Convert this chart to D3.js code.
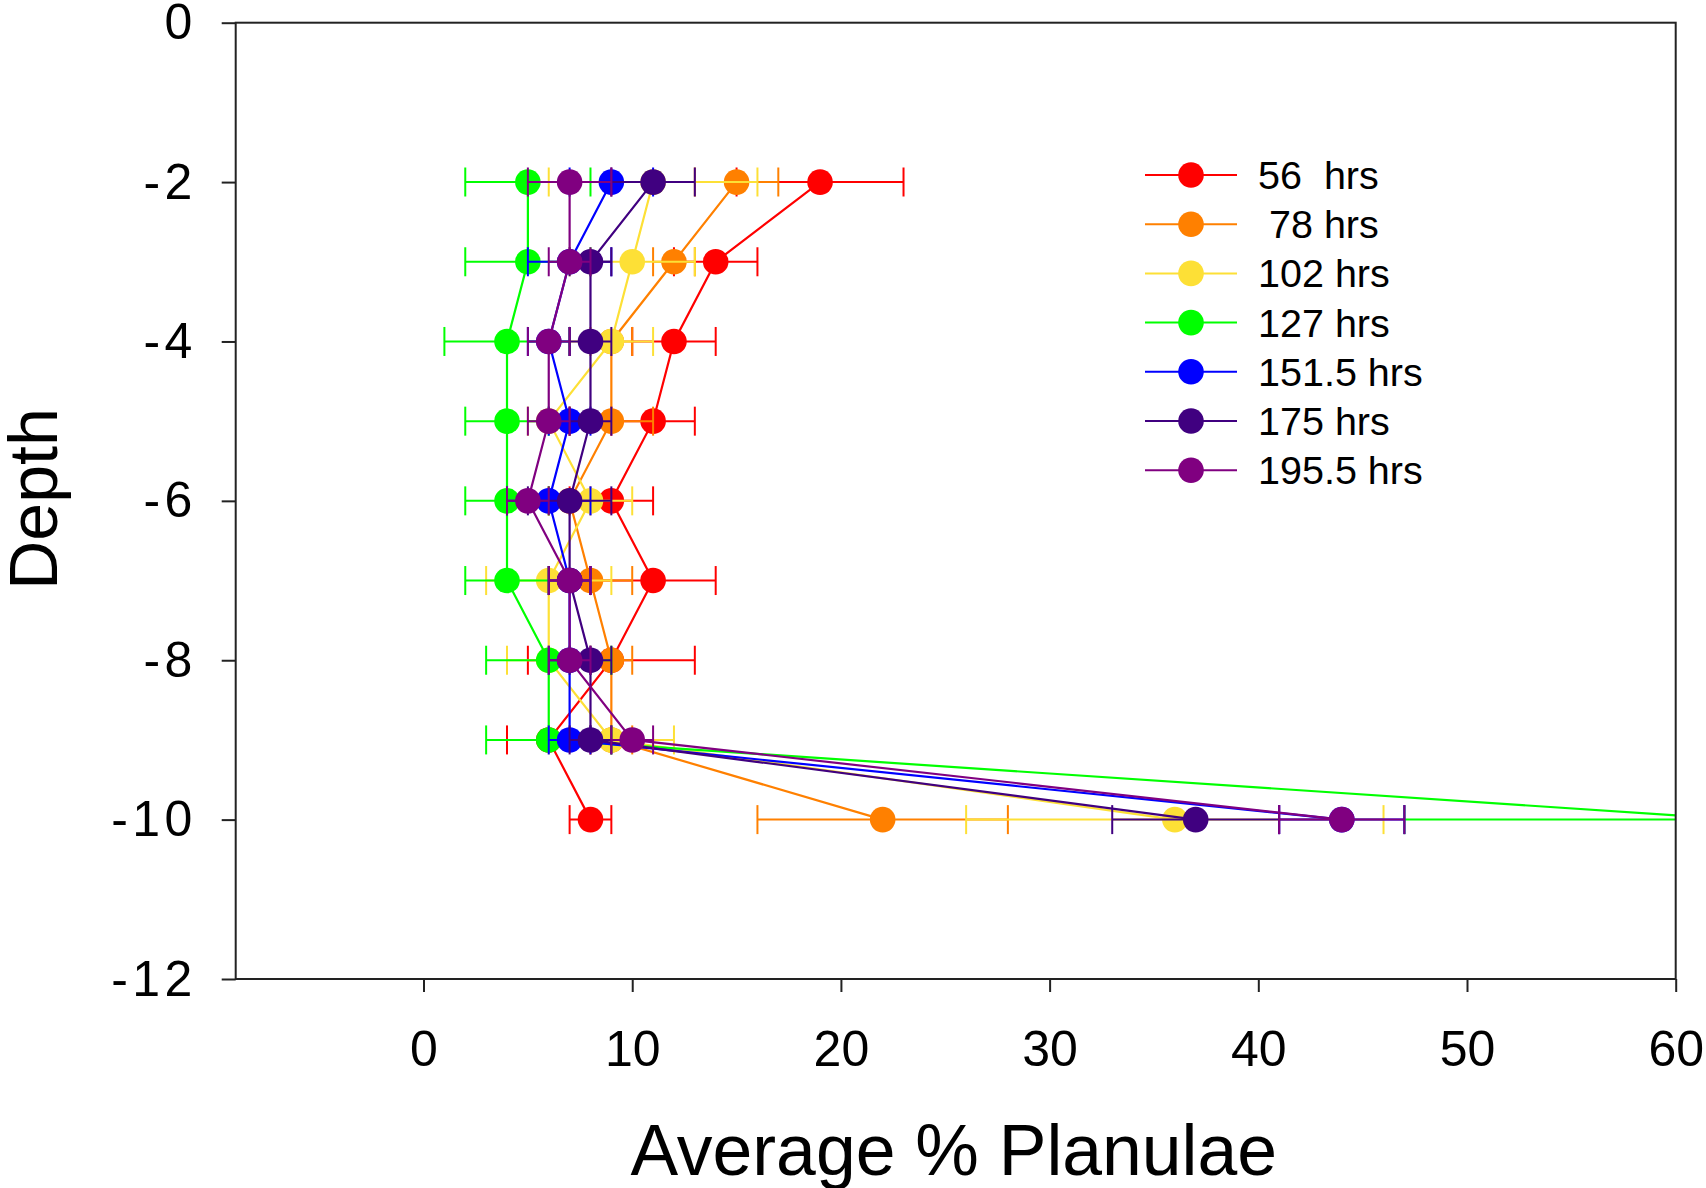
<!DOCTYPE html>
<html>
<head>
<meta charset="utf-8">
<script src="https://cdn.jsdelivr.net/npm/d3@7"></script>
<style>
	body { margin: 0; background: #fff; }
	text { font-family: 'Liberation Sans', Arial, sans-serif; }
</style>
</head>
<body>
<div class="chart"></div>
<script>
// depth profiles of planulae over time
const depths = [-2, -3, -4, -5, -6, -7, -8, -9, -10]

const seriesNames = ['56  hrs', ' 78 hrs', '102 hrs', '127 hrs', '151.5 hrs', '175 hrs', '195.5 hrs']
const seriesColors = ['#ff0000', '#ff8000', '#fde036', '#00ff00', '#0000ff', '#400080', '#800080']

const h56 = [19, 14, 12, 11, 9, 11, 9, 6, 8]
const h56Err = [4, 2, 2, 2, 2, 3, 4, 2, 1]
const h78 = [15, 12, 9, 9, 7, 8, 9, 9, 22]
const h78Err = [2, 1, 1, 2, 1, 2, 1, 1, 6]
const h102 = [11, 10, 9, 6, 8, 6, 6, 9, 36]
const h102Err = [5, 3, 2, 1, 2, 3, 2, 3, 10]
const h127 = [5, 5, 4, 4, 4, 4, 6, 6, 63]
const h127Err = [3, 3, 3, 2, 2, 2, 3, 3, 16]
const h151 = [9, 7, 6, 7, 6, 7, 7, 7, 44]
const h151Err = [2, 2, 1, 1, 2, 1, 1, 1, 3]
const h175 = [11, 8, 8, 8, 7, 7, 8, 8, 37]
const h175Err = [2, 1, 1, 1, 2, 1, 1, 1, 4]
const h195 = [7, 7, 6, 6, 5, 7, 7, 10, 44]
const h195Err = [2, 1, 1, 1, 1, 1, 1, 1, 3]

const xTicks = [0, 10, 20, 30, 40, 50, 60]
const yTicks = [0, -2, -4, -6, -8, -10, -12]

const values = [h56, h78, h102, h127, h151, h175, h195]
const errors = [h56Err, h78Err, h102Err, h127Err, h151Err, h175Err, h195Err]

const series = seriesNames.map((name, i) => ({
	name: name,
	color: seriesColors[i],
	points: depths.map((d, j) => ({depth: d, value: values[i][j], err: errors[i][j]}))
}))

const margin = ({top: 22.7, right: 30.3, bottom: 209, left: 235.7})
const width = 1706 - margin.left - margin.right
const height = 1188 - margin.top - margin.bottom

const svg = d3.select('.chart')
	.append('svg')
	.attr('width', 1706)
	.attr('height', 1188)
	.append('g')
	.attr('transform', 'translate(' + margin.left + ',' + margin.top + ')')

const xScale = d3.scaleLinear()
	.domain([-9, 60])
	.range([0, width])

const yScale = d3.scaleLinear()
	.domain([-12, 0])
	.range([height, 0])

// axes
const xAxis = d3.axisBottom(xScale)
	.tickValues(xTicks)
	.tickFormat(d => String(d))
	.tickSize(13)
	.tickSizeOuter(0)
	.tickPadding(38)

const yAxis = d3.axisLeft(yScale)
	.tickValues(yTicks)
	.tickFormat(d => String(d))
	.tickSize(14)
	.tickSizeOuter(0)
	.tickPadding(25)

const gx = svg.append('g')
	.attr('transform', `translate(0, ${height})`)
	.call(xAxis)
const gy = svg.append('g')
	.call(yAxis)

;[gx, gy].forEach(g => {
	g.select('.domain').remove()
	g.selectAll('line').attr('stroke', '#222').attr('stroke-width', 2)
	g.selectAll('text')
		.attr('font-family', "'Liberation Sans', Arial, sans-serif")
		.attr('font-size', 50)
		.attr('fill', '#000')
})
// y labels are spaced a little wider
gy.selectAll('text').attr('letter-spacing', 4.4)

// clip for data
svg.append('clipPath')
	.attr('id', 'plot-clip')
	.append('rect')
	.attr('width', width)
	.attr('height', height)

const plot = svg.append('g').attr('clip-path', 'url(#plot-clip)')

const line = d3.line()
	.x(d => xScale(d.value))
	.y(d => yScale(d.depth))

series.forEach(s => {
	const g = plot.append('g')

	g.append('path')
		.datum(s.points)
		.attr('d', line)
		.attr('fill', 'none')
		.attr('stroke', s.color)
		.attr('stroke-width', 2.2)

	// error bars
	const eb = g.append('g')
		.attr('stroke', s.color)
		.attr('stroke-width', 2)
	eb.selectAll('line.bar')
		.data(s.points)
		.enter()
		.append('line')
		.attr('class', 'bar')
		.attr('x1', d => xScale(d.value - d.err))
		.attr('x2', d => xScale(d.value + d.err))
		.attr('y1', d => yScale(d.depth))
		.attr('y2', d => yScale(d.depth))
	eb.selectAll('line.capl')
		.data(s.points)
		.enter()
		.append('line')
		.attr('class', 'capl')
		.attr('x1', d => xScale(d.value - d.err))
		.attr('x2', d => xScale(d.value - d.err))
		.attr('y1', d => yScale(d.depth) - 14.5)
		.attr('y2', d => yScale(d.depth) + 14.5)
	eb.selectAll('line.capr')
		.data(s.points)
		.enter()
		.append('line')
		.attr('class', 'capr')
		.attr('x1', d => xScale(d.value + d.err))
		.attr('x2', d => xScale(d.value + d.err))
		.attr('y1', d => yScale(d.depth) - 14.5)
		.attr('y2', d => yScale(d.depth) + 14.5)

	g.selectAll('circle')
		.data(s.points)
		.enter()
		.append('circle')
		.attr('cx', d => xScale(d.value))
		.attr('cy', d => yScale(d.depth))
		.attr('r', 12.8)
		.attr('fill', s.color)
})

// frame
svg.append('rect')
	.attr('width', width)
	.attr('height', height)
	.attr('fill', 'none')
	.attr('stroke', '#222')
	.attr('stroke-width', 2)

// axis titles
svg.append('text')
	.attr('x', width / 2 - 2)
	.attr('y', 1175 - margin.top)
	.attr('text-anchor', 'middle')
	.attr('font-size', 71.5)
	.attr('fill', '#000')
	.text('Average % Planulae')

svg.append('text')
	.attr('transform', `translate(${57 - margin.left}, ${499 - margin.top}) rotate(-90)`)
	.attr('text-anchor', 'middle')
	.attr('font-size', 68)
	.attr('fill', '#000')
	.text('Depth')

// legend
const legend = svg.append('g')
	.attr('transform', `translate(${1145 - margin.left}, ${175 - margin.top})`)

const rows = legend.selectAll('g')
	.data(series)
	.enter()
	.append('g')
	.attr('transform', (d, i) => `translate(0, ${i * 49.2})`)

rows.append('line')
	.attr('x1', 0)
	.attr('x2', 92)
	.attr('stroke', d => d.color)
	.attr('stroke-width', 2)
rows.append('circle')
	.attr('cx', 46)
	.attr('r', 12.8)
	.attr('fill', d => d.color)
rows.append('text')
	.attr('x', 113)
	.attr('y', 14)
	.attr('font-size', 39.5)
	.attr('fill', '#000')
	.attr('xml:space', 'preserve')
	.style('white-space', 'pre')
	.text(d => d.name)
</script>
</body>
</html>
